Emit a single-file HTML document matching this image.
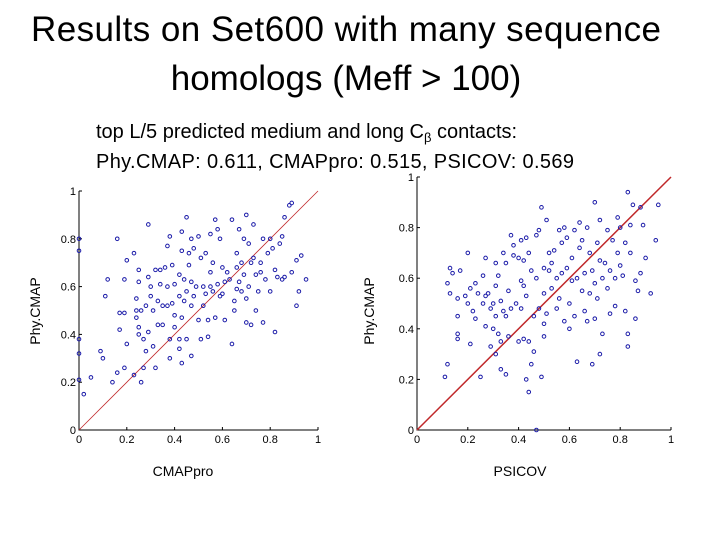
<!DOCTYPE html>
<html><head><meta charset="utf-8"><style>
body{margin:0;width:720px;height:540px;background:#fff;overflow:hidden;font-family:"Liberation Sans",sans-serif}
svg{position:absolute;left:0;top:0}
</style></head><body>
<svg width="720" height="540" xmlns="http://www.w3.org/2000/svg">
<text x="346" y="41" font-size="35" text-anchor="middle" fill="#000" textLength="630">Results on Set600 with many sequence</text>
<text x="346" y="90" font-size="35" text-anchor="middle" fill="#000">homologs (Meff &gt; 100)</text>
<text x="96" y="138" font-size="20" fill="#000">top L/5 predicted medium and long C<tspan font-size="13" dy="4">β</tspan><tspan dy="-4"> contacts:</tspan></text>
<text x="96" y="168" font-size="20" fill="#000" textLength="478">Phy.CMAP: 0.611, CMAPpro: 0.515, PSICOV: 0.569</text>
<g id="p1"></g>
<g id="p2"></g>
<text x="183" y="476" font-size="14" text-anchor="middle">CMAPpro</text>
<text x="520" y="476" font-size="14" text-anchor="middle">PSICOV</text>
<text transform="translate(40,311) rotate(-90)" font-size="14" text-anchor="middle">Phy.CMAP</text>
<text transform="translate(374,311) rotate(-90)" font-size="14" text-anchor="middle">Phy.CMAP</text>
</svg>
<script>
const tickVals=[0,0.2,0.4,0.6,0.8,1];
const tickLabels=["0","0.2","0.4","0.6","0.8","1"];
const leftX=[0,0,0,0,0,0.02,0.05,0.09,0.10,0.12,0.11,0.14,0.16,0.16,0.17,0.17,0.19,0.19,0.19,0.2,0.2,0.23,0.23,0.24,0.24,0.24,0.25,0.25,0.25,0.25,0.26,0.26,0.27,0.27,0.28,0.28,0.29,0.29,0.29,0.3,0.3,0.31,0.31,0.32,0.32,0.33,0.33,0.34,0.34,0.35,0.35,0.36,0.37,0.37,0.37,0.38,0.38,0.38,0.39,0.39,0.4,0.4,0.4,0.42,0.42,0.42,0.42,0.43,0.43,0.43,0.43,0.44,0.44,0.45,0.45,0.45,0.46,0.46,0.47,0.47,0.47,0.47,0.48,0.48,0.49,0.5,0.5,0.51,0.51,0.52,0.52,0.53,0.53,0.54,0.54,0.55,0.55,0.55,0.56,0.56,0.57,0.57,0.58,0.58,0.59,0.59,0.6,0.6,0.61,0.61,0.62,0.63,0.64,0.64,0.65,0.65,0.66,0.66,0.66,0.67,0.67,0.68,0.68,0.69,0.69,0.7,0.7,0.7,0.71,0.71,0.72,0.72,0.73,0.73,0.74,0.74,0.75,0.76,0.76,0.77,0.77,0.78,0.79,0.8,0.8,0.81,0.82,0.82,0.83,0.84,0.85,0.85,0.86,0.86,0.88,0.89,0.89,0.91,0.91,0.92,0.93,0.95];
const leftY=[0.8,0.75,0.38,0.32,0.21,0.15,0.22,0.33,0.30,0.63,0.56,0.2,0.8,0.24,0.42,0.49,0.49,0.63,0.26,0.71,0.36,0.74,0.23,0.55,0.47,0.5,0.43,0.4,0.62,0.67,0.5,0.2,0.26,0.38,0.33,0.52,0.86,0.64,0.41,0.6,0.56,0.5,0.35,0.67,0.26,0.54,0.44,0.61,0.67,0.52,0.44,0.68,0.77,0.6,0.52,0.81,0.3,0.38,0.69,0.53,0.61,0.48,0.43,0.65,0.56,0.38,0.34,0.75,0.83,0.47,0.28,0.63,0.54,0.89,0.58,0.38,0.74,0.69,0.8,0.62,0.52,0.31,0.76,0.56,0.6,0.81,0.46,0.72,0.38,0.6,0.52,0.74,0.57,0.39,0.46,0.82,0.66,0.6,0.7,0.58,0.88,0.47,0.84,0.61,0.8,0.56,0.68,0.57,0.62,0.46,0.66,0.63,0.88,0.36,0.5,0.54,0.74,0.68,0.59,0.84,0.62,0.7,0.58,0.8,0.65,0.9,0.55,0.45,0.78,0.6,0.44,0.7,0.86,0.72,0.65,0.5,0.58,0.7,0.66,0.8,0.45,0.63,0.74,0.58,0.8,0.76,0.67,0.41,0.64,0.78,0.63,0.81,0.89,0.64,0.94,0.95,0.66,0.71,0.52,0.58,0.73,0.63];
const rightX=[0.11,0.12,0.12,0.13,0.13,0.14,0.16,0.16,0.16,0.16,0.17,0.19,0.2,0.2,0.21,0.21,0.22,0.23,0.23,0.24,0.25,0.26,0.26,0.27,0.27,0.27,0.28,0.29,0.29,0.3,0.3,0.31,0.31,0.31,0.31,0.32,0.32,0.33,0.33,0.33,0.34,0.34,0.35,0.35,0.35,0.36,0.36,0.37,0.37,0.38,0.38,0.39,0.4,0.4,0.41,0.41,0.41,0.42,0.42,0.42,0.43,0.43,0.43,0.44,0.44,0.44,0.45,0.45,0.46,0.46,0.47,0.47,0.47,0.48,0.48,0.49,0.49,0.5,0.5,0.5,0.5,0.51,0.51,0.52,0.52,0.53,0.53,0.54,0.55,0.55,0.56,0.56,0.57,0.57,0.58,0.58,0.59,0.59,0.6,0.6,0.61,0.61,0.62,0.62,0.63,0.63,0.64,0.64,0.65,0.65,0.66,0.66,0.67,0.67,0.68,0.68,0.69,0.69,0.7,0.7,0.7,0.71,0.71,0.72,0.72,0.72,0.73,0.73,0.74,0.75,0.75,0.76,0.76,0.77,0.78,0.78,0.79,0.79,0.8,0.8,0.81,0.82,0.82,0.83,0.83,0.83,0.84,0.84,0.85,0.86,0.86,0.87,0.88,0.88,0.89,0.9,0.92,0.94,0.95];
const rightY=[0.21,0.26,0.58,0.64,0.54,0.62,0.45,0.36,0.38,0.52,0.63,0.53,0.7,0.5,0.56,0.34,0.47,0.44,0.58,0.54,0.21,0.5,0.61,0.41,0.53,0.68,0.54,0.33,0.48,0.5,0.4,0.3,0.45,0.57,0.66,0.38,0.61,0.24,0.35,0.51,0.47,0.7,0.45,0.22,0.66,0.55,0.37,0.77,0.48,0.73,0.69,0.5,0.68,0.35,0.59,0.48,0.75,0.36,0.67,0.57,0.76,0.53,0.2,0.15,0.35,0.7,0.63,0.26,0.45,0.31,0.77,0.0,0.6,0.79,0.48,0.88,0.21,0.64,0.54,0.42,0.37,0.83,0.46,0.7,0.63,0.56,0.66,0.71,0.48,0.6,0.79,0.52,0.74,0.62,0.43,0.8,0.64,0.76,0.5,0.4,0.59,0.68,0.45,0.79,0.27,0.6,0.72,0.82,0.55,0.75,0.62,0.47,0.43,0.8,0.54,0.7,0.26,0.63,0.9,0.58,0.44,0.52,0.74,0.83,0.67,0.3,0.38,0.6,0.66,0.56,0.79,0.46,0.63,0.75,0.49,0.6,0.84,0.7,0.65,0.8,0.61,0.74,0.47,0.38,0.33,0.94,0.81,0.7,0.89,0.59,0.44,0.55,0.88,0.62,0.81,0.68,0.54,0.75,0.89];
const NS="http://www.w3.org/2000/svg";
function mk(tag,attrs,parent){const e=document.createElementNS(NS,tag);for(const k in attrs)e.setAttribute(k,attrs[k]);parent.appendChild(e);return e;}
function plot(g,xs,ys,x0,x1,y0,y1,lineW){
  const sx=v=>x0+v*(x1-x0), sy=v=>y0-v*(y0-y1);
  const ax=mk('path',{d:`M${x0},${y1} V${y0} H${x1}`,stroke:'#000','stroke-width':1,fill:'none'},g);
  
  
  tickVals.forEach((v,i)=>{
    const tx=mk('line',{x1:sx(v),x2:sx(v),y1:y0,y2:y0-3,stroke:'#000'},g);
    
    
    const ty=mk('line',{x1:x0,x2:x0+3,y1:sy(v),y2:sy(v),stroke:'#000'},g);
    
    
    const lx=mk('text',{x:sx(v),y:y0+13,'font-size':11,'text-anchor':'middle'},g);lx.textContent=tickLabels[i];
    
    
    const ly=mk('text',{x:x0-3,y:sy(v)+4,'font-size':11,'text-anchor':'end'},g);ly.textContent=tickLabels[i];
    
    
  });
  const d=mk('line',{x1:sx(0),y1:sy(0),x2:sx(1),y2:sy(1),stroke:'#c0282a','stroke-width':lineW},g);
  
  
  xs.forEach((x,i)=>{
    const c=mk('circle',{cx:sx(x),cy:sy(ys[i]),r:1.8,fill:'none',stroke:'#1a1aa8','stroke-width':1},g);
    
    
  });
}
plot(document.getElementById('p1'),leftX,leftY,79,318,430,191,0.8);
plot(document.getElementById('p2'),rightX,rightY,417,671,430,177,1.5);
</script>
</body></html>
